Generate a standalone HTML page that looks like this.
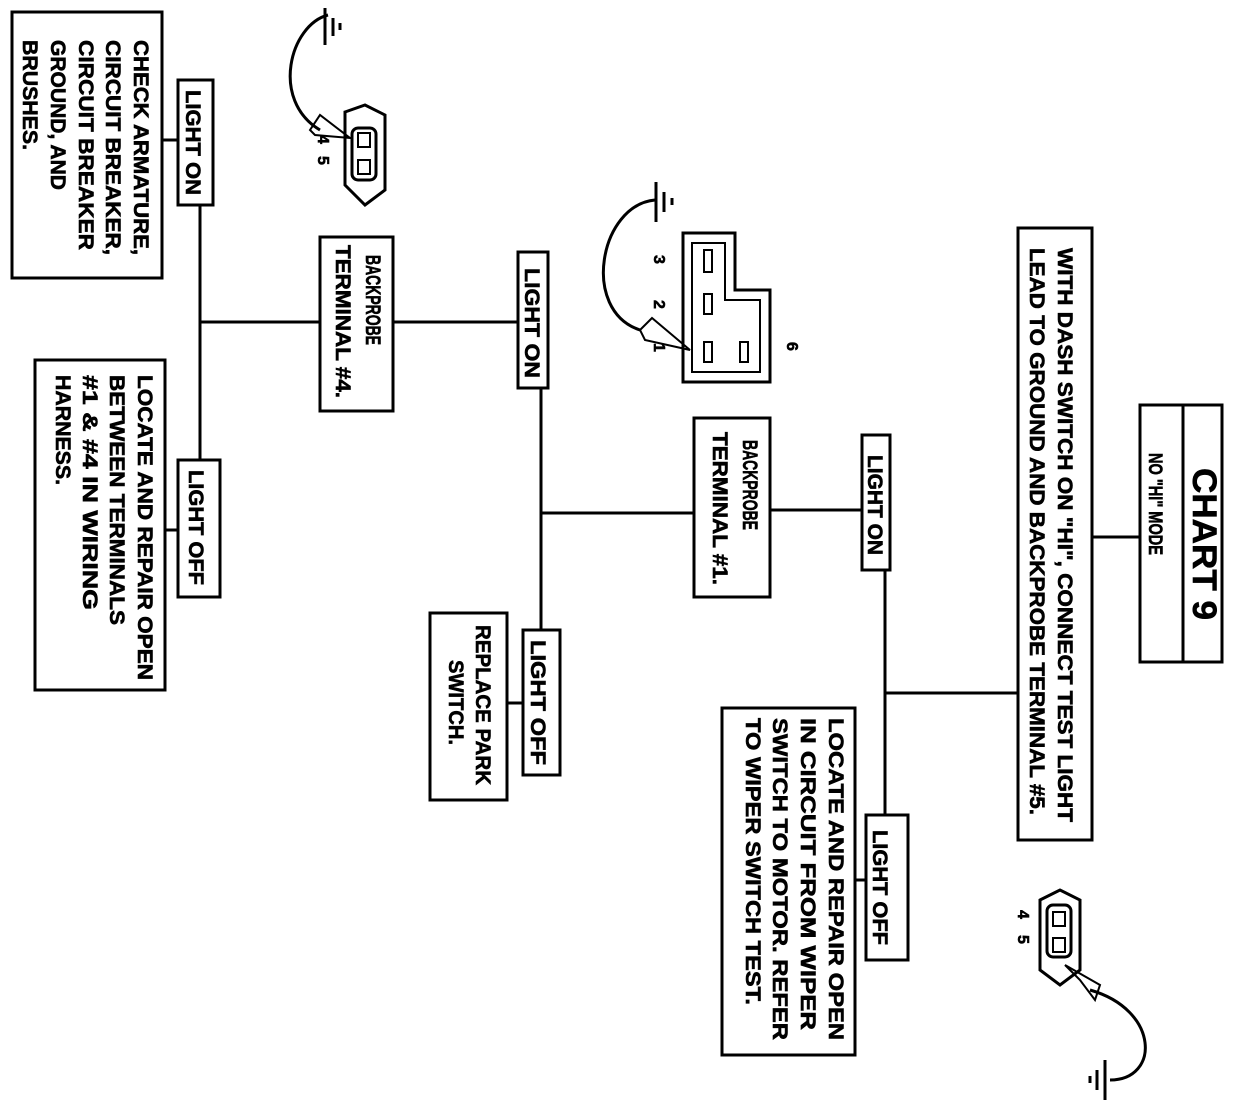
<!DOCTYPE html>
<html><head><style>body{margin:0;background:#fff}svg{display:block}text{font-family:"Liberation Sans",Arial,sans-serif;font-weight:bold;fill:#000;stroke:#000;stroke-width:0.6}</style></head><body>
<svg width="1246" height="1120" viewBox="0 0 1246 1120" xmlns="http://www.w3.org/2000/svg">
<g fill="none" stroke="#000" stroke-width="3">
<rect x="1140" y="405" width="82" height="257"/><line x1="1183" y1="405" x2="1183" y2="662"/>
<rect x="1018" y="228" width="74" height="612"/>
<line x1="1092" y1="537" x2="1140" y2="537"/>
<line x1="1018" y1="693" x2="885" y2="693"/>
<line x1="885" y1="570" x2="885" y2="815"/>
<rect x="862" y="435" width="28" height="135"/>
<rect x="866" y="815" width="42" height="145"/>
<rect x="722" y="708" width="133" height="347"/>
<line x1="855" y1="880" x2="866" y2="880"/>
<rect x="694" y="418" width="76" height="179"/>
<line x1="770" y1="510" x2="862" y2="510"/>
<line x1="694" y1="513" x2="541" y2="513"/>
<line x1="541" y1="388" x2="541" y2="630"/>
<rect x="518" y="252" width="30" height="136"/>
<rect x="523" y="630" width="37" height="145"/>
<rect x="430" y="613" width="77" height="187"/>
<line x1="507" y1="703" x2="523" y2="703"/>
<rect x="320" y="237" width="73" height="174"/>
<line x1="393" y1="322" x2="518" y2="322"/>
<line x1="320" y1="322" x2="200" y2="322"/>
<line x1="200" y1="205" x2="200" y2="460"/>
<rect x="178" y="80" width="35" height="125"/>
<rect x="178" y="460" width="42" height="137"/>
<rect x="12" y="12" width="150" height="266"/>
<line x1="162" y1="140" x2="178" y2="140"/>
<rect x="35" y="360" width="130" height="330"/>
<line x1="165" y1="530" x2="178" y2="530"/>
</g>
<g font-size="21">
<text transform="translate(1193,468) rotate(90)" font-size="34" textLength="152" lengthAdjust="spacingAndGlyphs">CHART 9</text>
<text transform="translate(1149,453) rotate(90)" font-size="19" textLength="102" lengthAdjust="spacingAndGlyphs">NO "HI" MODE</text>
<text transform="translate(1058,248) rotate(90)" textLength="574" lengthAdjust="spacingAndGlyphs">WITH DASH SWITCH ON "HI", CONNECT TEST LIGHT</text>
<text transform="translate(1030,248) rotate(90)" textLength="567" lengthAdjust="spacingAndGlyphs">LEAD TO GROUND AND BACKPROBE TERMINAL #5.</text>
<text transform="translate(868,455) rotate(90)" textLength="100" lengthAdjust="spacingAndGlyphs">LIGHT ON</text>
<text transform="translate(873,830) rotate(90)" textLength="115" lengthAdjust="spacingAndGlyphs">LIGHT OFF</text>
<text transform="translate(829,718) rotate(90)" textLength="322" lengthAdjust="spacingAndGlyphs">LOCATE AND REPAIR OPEN</text>
<text transform="translate(801,718) rotate(90)" textLength="312" lengthAdjust="spacingAndGlyphs">IN CIRCUIT FROM WIPER</text>
<text transform="translate(773,718) rotate(90)" textLength="322" lengthAdjust="spacingAndGlyphs">SWITCH TO MOTOR. REFER</text>
<text transform="translate(746,718) rotate(90)" textLength="287" lengthAdjust="spacingAndGlyphs">TO WIPER SWITCH TEST.</text>
<text transform="translate(743,440) rotate(90)" textLength="90" lengthAdjust="spacingAndGlyphs">BACKPROBE</text>
<text transform="translate(713,432) rotate(90)" textLength="153" lengthAdjust="spacingAndGlyphs">TERMINAL #1.</text>
<text transform="translate(525,268) rotate(90)" textLength="110" lengthAdjust="spacingAndGlyphs">LIGHT ON</text>
<text transform="translate(531,640) rotate(90)" textLength="125" lengthAdjust="spacingAndGlyphs">LIGHT OFF</text>
<text transform="translate(476,625) rotate(90)" textLength="160" lengthAdjust="spacingAndGlyphs">REPLACE PARK</text>
<text transform="translate(449,660) rotate(90)" textLength="85" lengthAdjust="spacingAndGlyphs">SWITCH.</text>
<text transform="translate(366,255) rotate(90)" textLength="90" lengthAdjust="spacingAndGlyphs">BACKPROBE</text>
<text transform="translate(336,245) rotate(90)" textLength="153" lengthAdjust="spacingAndGlyphs">TERMINAL #4.</text>
<text transform="translate(186,90) rotate(90)" textLength="105" lengthAdjust="spacingAndGlyphs">LIGHT ON</text>
<text transform="translate(189,470) rotate(90)" textLength="115" lengthAdjust="spacingAndGlyphs">LIGHT OFF</text>
<text transform="translate(134,40) rotate(90)" textLength="215" lengthAdjust="spacingAndGlyphs">CHECK ARMATURE,</text>
<text transform="translate(106,40) rotate(90)" textLength="215" lengthAdjust="spacingAndGlyphs">CIRCUIT BREAKER,</text>
<text transform="translate(79,40) rotate(90)" textLength="210" lengthAdjust="spacingAndGlyphs">CIRCUIT BREAKER</text>
<text transform="translate(51,40) rotate(90)" textLength="150" lengthAdjust="spacingAndGlyphs">GROUND, AND</text>
<text transform="translate(23,40) rotate(90)" textLength="110" lengthAdjust="spacingAndGlyphs">BRUSHES.</text>
<text transform="translate(138,375) rotate(90)" textLength="305" lengthAdjust="spacingAndGlyphs">LOCATE AND REPAIR OPEN</text>
<text transform="translate(110,375) rotate(90)" textLength="250" lengthAdjust="spacingAndGlyphs">BETWEEN TERMINALS</text>
<text transform="translate(83,375) rotate(90)" textLength="235" lengthAdjust="spacingAndGlyphs">#1 &amp; #4 IN WIRING</text>
<text transform="translate(56,375) rotate(90)" textLength="110" lengthAdjust="spacingAndGlyphs">HARNESS.</text>
</g>
<g fill="none" stroke="#000" stroke-width="3">
<path d="M683 233 H735 V290 H770 V382 H683 Z"/>
<path d="M692 243 H725 V300 H760 V372 H692 Z" stroke-width="2"/>
<rect x="704" y="250" width="8" height="22" stroke-width="2"/>
<rect x="704" y="294" width="8" height="20" stroke-width="2"/>
<rect x="704" y="342" width="8" height="20" stroke-width="2"/>
<rect x="740" y="342" width="8" height="20" stroke-width="2"/>
<path d="M655 200 C600 205 580 310 640 330"/>
<line x1="656" y1="182" x2="656" y2="222"/><line x1="664" y1="192" x2="664" y2="212"/><line x1="672" y1="198" x2="672" y2="205"/>
<path d="M640 330 L652 318 L690 350 L645 340 Z" stroke-width="2"/>
<path d="M328 15 C290 25 270 100 320 130"/>
<line x1="325" y1="8" x2="325" y2="45"/><line x1="333" y1="18" x2="333" y2="36"/><line x1="340" y1="23" x2="340" y2="30"/>
<path d="M345 112 L365 105 L385 115 V190 L365 205 L345 185 Z"/>
<rect x="352" y="128" width="24" height="52" rx="6"/>
<rect x="358" y="133" width="12" height="14" stroke-width="2"/><rect x="358" y="160" width="12" height="14" stroke-width="2"/>
<path d="M310 130 L320 115 L350 138 L315 135 Z" stroke-width="2"/>
<path d="M1040 900 L1060 890 L1080 900 V970 L1060 985 L1040 970 Z"/>
<rect x="1047" y="905" width="24" height="52" rx="6"/>
<rect x="1053" y="912" width="12" height="14" stroke-width="2"/><rect x="1053" y="938" width="12" height="14" stroke-width="2"/>
<path d="M1090 990 C1160 1010 1160 1080 1110 1080"/>
<line x1="1105" y1="1060" x2="1105" y2="1100"/><line x1="1097" y1="1070" x2="1097" y2="1090"/><line x1="1090" y1="1076" x2="1090" y2="1083"/>
<path d="M1065 965 L1100 985 L1095 1000 L1080 980 Z" stroke-width="2"/>
</g>
<g font-size="16">
<text transform="translate(654,255) rotate(90)">3</text>
<text transform="translate(654,300) rotate(90)">2</text>
<text transform="translate(654,343) rotate(90)">1</text>
<text transform="translate(787,342) rotate(90)">6</text>
<text transform="translate(318,135) rotate(90)">4</text>
<text transform="translate(318,156) rotate(90)">5</text>
<text transform="translate(1018,910) rotate(90)">4</text>
<text transform="translate(1018,935) rotate(90)">5</text>
</g>
</svg>
</body></html>
